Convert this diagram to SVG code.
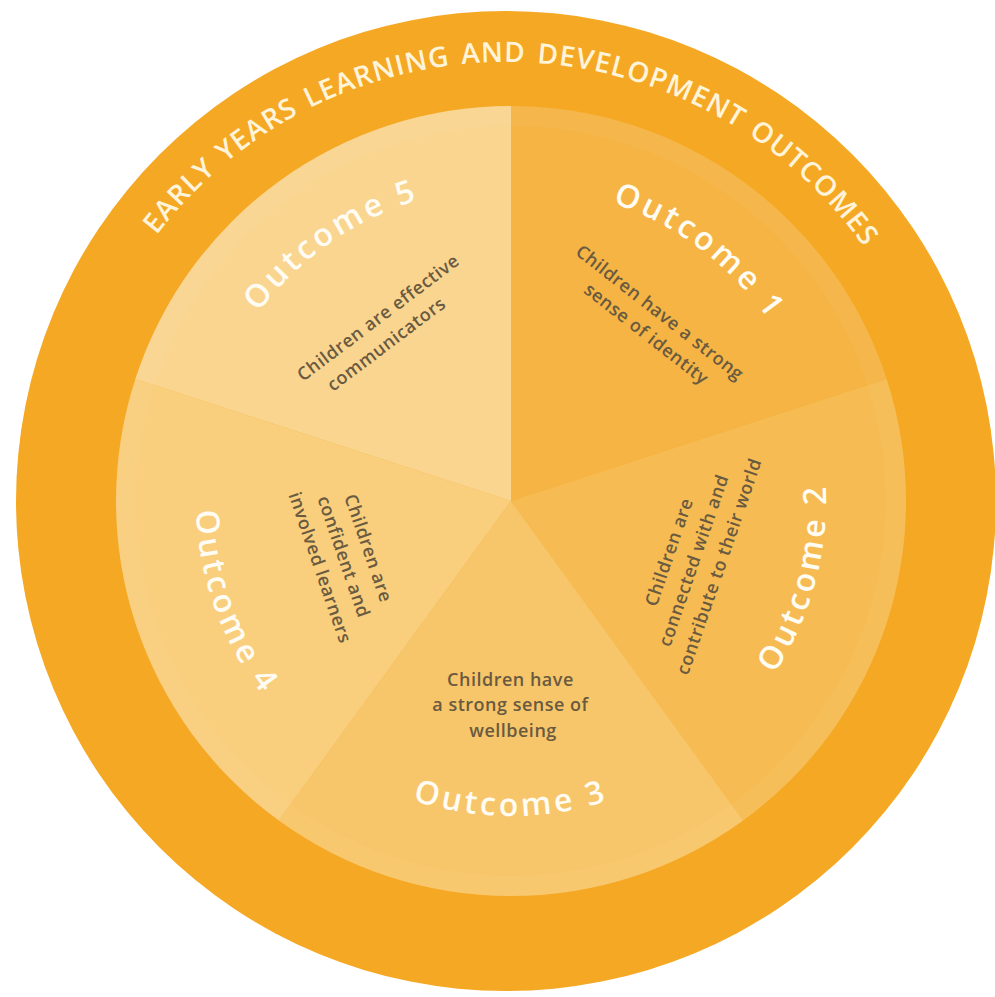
<svg xmlns="http://www.w3.org/2000/svg" width="995" height="997" viewBox="0 0 995 997">
  <defs>
    <style>
      .title { font-family: "Open Sans", "Liberation Sans", sans-serif; font-weight: 600; font-size: 28px; fill: #FFF4DA; letter-spacing: 1px; word-spacing: 3px; }
      .label { font-family: "Open Sans", "Liberation Sans", sans-serif; font-weight: 600; font-size: 32px; fill: #FFFCF4; letter-spacing: 3.5px; }
      .body { font-family: "Open Sans", "Liberation Sans", sans-serif; font-weight: 600; font-size: 18px; fill: #695A40; letter-spacing: 0.5px; text-anchor: middle; }
    </style>
    <!-- title runs along the outer ring, labels along a circle of r=315 -->
    <path id="arc-title" d="M129.7,274.9 A439,439 0 0 1 889.96,288.17"/>
    <path id="arc-o1" d="M549.39,188.35 A315,315 0 0 1 800.96,377.92"/>
    <path id="arc-o2" d="M733.74,723.74 A315,315 0 0 0 815.27,419.47"/>
    <path id="arc-o3" d="M353.5,773.8 A315,315 0 0 0 668.5,773.8"/>
    <path id="arc-o4" d="M200.79,446.3 A315,315 0 0 0 308.52,742.3"/>
    <path id="arc-o5" d="M225.51,367.88 A315,315 0 0 1 483.54,187.2"/>
  </defs>

  <rect width="995" height="997" fill="#FFFFFF"/>

  <!-- outer ring with the heading -->
  <g id="ring">
    <circle cx="506" cy="501" r="490" fill="#F5A823"/>
    <text class="title"><textPath href="#arc-title" startOffset="50%" text-anchor="middle">EARLY YEARS LEARNING AND DEVELOPMENT OUTCOMES</textPath></text>
  </g>

  <!-- five outcome wedges around (511,501), r=395 -->
  <g id="outcome-1">
    <path d="M511,501 L511,106 A395,395 0 0 1 886.67,378.94 Z" fill="#F5B444"/>
    <text class="label"><textPath href="#arc-o1" startOffset="50%" text-anchor="middle">Outcome 1</textPath></text>
    <text class="body" transform="translate(658,319) rotate(38)">
      <tspan x="0" y="0">Children have a strong</tspan>
      <tspan x="0" y="25">sense of identity</tspan>
    </text>
  </g>

  <g id="outcome-2">
    <path d="M511,501 L886.67,378.94 A395,395 0 0 1 743.18,820.56 Z" fill="#F6BC53"/>
    <text class="label"><textPath href="#arc-o2" startOffset="50%" text-anchor="middle">Outcome 2</textPath></text>
    <text class="body" transform="translate(675.7,551.6) rotate(-71)">
      <tspan x="0" y="0">Children are</tspan>
      <tspan x="0" y="26">connected with and</tspan>
      <tspan x="0" y="52">contribute to their world</tspan>
    </text>
  </g>

  <g id="outcome-3">
    <path d="M511,501 L743.18,820.56 A395,395 0 0 1 278.82,820.56 Z" fill="#F8C66A"/>
    <text class="label"><textPath href="#arc-o3" startOffset="50%" text-anchor="middle">Outcome 3</textPath></text>
    <text class="body">
      <tspan x="513" y="686">Children have</tspan>
      <tspan x="513" y="711">a strong sense of</tspan>
      <tspan x="513" y="737">wellbeing</tspan>
    </text>
  </g>

  <g id="outcome-4">
    <path d="M511,501 L278.82,820.56 A395,395 0 0 1 135.33,378.94 Z" fill="#F9CE7D"/>
    <text class="label"><textPath href="#arc-o4" startOffset="50%" text-anchor="middle">Outcome 4</textPath></text>
    <text class="body" transform="translate(363.3,552.6) rotate(71)">
      <tspan x="0" y="0">Children are</tspan>
      <tspan x="0" y="26">confident and</tspan>
      <tspan x="0" y="52">involved learners</tspan>
    </text>
  </g>

  <g id="outcome-5">
    <path d="M511,501 L135.33,378.94 A395,395 0 0 1 511,106 Z" fill="#FAD590"/>
    <text class="label"><textPath href="#arc-o5" startOffset="50%" text-anchor="middle">Outcome 5</textPath></text>
    <text class="body" transform="translate(384,321) rotate(-37)">
      <tspan x="0" y="0">Children are effective</tspan>
      <tspan x="-12" y="26">communicators</tspan>
    </text>
  </g>

  <!-- soft light rim just inside the wedge edge -->
  <circle cx="511" cy="501" r="385" fill="none" stroke="#FFFFFF" stroke-opacity="0.04" stroke-width="20"/>
</svg>
